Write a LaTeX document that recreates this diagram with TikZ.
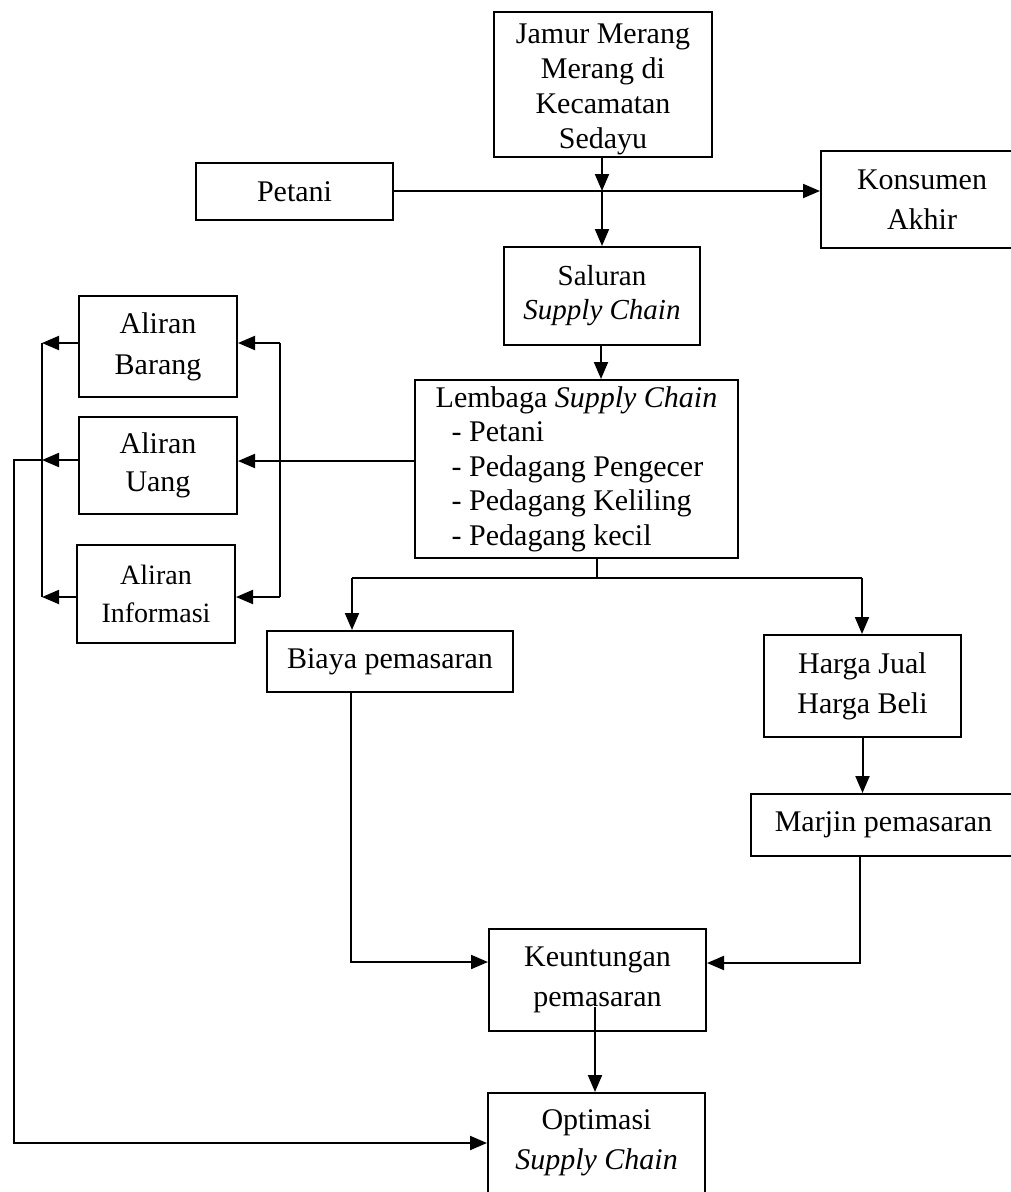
\documentclass[tikz,border=0pt]{standalone}
\usepackage{fontspec}
\setmainfont{Liberation Serif}
\usetikzlibrary{arrows.meta}
\begin{document}
\begin{tikzpicture}[x=1pt,y=-1pt,
  box/.style={draw, line width=2pt, inner sep=0pt, align=center, font=\fontsize{30}{40}\selectfont},
  arr/.style={line width=2pt, -{Triangle[length=17pt,width=14pt]}},
  ln/.style={line width=2pt}]
\useasboundingbox (0,0) rectangle (1011,1192);
% nodes
\node[box, minimum width=218pt, minimum height=145pt] (jamur) at (603,84.5) {};
\node[align=center, inner sep=0pt, font=\fontsize{30}{35}\selectfont] (jamurtext) at ([yshift=-5pt]jamur.center) {Jamur Merang\\Merang di\\Kecamatan\\Sedayu};
\node[box, minimum width=197pt, minimum height=57pt] (petani) at (294.5,191.5) {Petani};
\node[box, minimum width=202pt, minimum height=97pt] (konsumen) at (922,199.5) {Konsumen\\Akhir};
\node[box, minimum width=196pt, minimum height=98pt, font=\fontsize{29}{34}\selectfont] (saluran) at (602,296) {Saluran\\\textit{Supply Chain}};
\node[box, minimum width=323pt, minimum height=178pt, align=left, font=\fontsize{30}{34.5}\selectfont] (lembaga) at (576.5,469) {Lembaga \textit{Supply Chain}\\\hspace*{16pt}- Petani\\\hspace*{16pt}- Pedagang Pengecer\\\hspace*{16pt}- Pedagang Keliling\\\hspace*{16pt}- Pedagang kecil};
\node[box, minimum width=158pt, minimum height=101pt, font=\fontsize{30}{41}\selectfont] (barang) at (158,346.5) {Aliran\\Barang};
\node[box, minimum width=158pt, minimum height=97pt, font=\fontsize{30}{38}\selectfont] (uang) at (158,465.5) {Aliran\\Uang};
\node[box, minimum width=158pt, minimum height=98pt, font=\fontsize{28}{38}\selectfont] (info) at (156,594) {Aliran\\Informasi};
\node[box, minimum width=246pt, minimum height=61pt] (biaya) at (390,661.5) {Biaya pemasaran};
\node[box, minimum width=197pt, minimum height=102pt] (harga) at (862.5,686) {Harga Jual\\Harga Beli};
\node[box, minimum width=265pt, minimum height=62pt] (marjin) at (883.5,825) {Marjin pemasaran};
\node[box, minimum width=217pt, minimum height=102pt] (keu) at (597.5,980) {Keuntungan\\pemasaran};
\node[box, minimum width=217pt, minimum height=100pt] (opt) at (596.5,1143) {Optimasi\\\textit{Supply Chain}};
% helper coordinates
\coordinate (cross) at (602,191);
\coordinate (rbT) at (280,343);
\coordinate (rbM) at (280,461);
\coordinate (rbB) at (280,597);
\coordinate (lbT) at (42,343);
\coordinate (lbM) at (42,460);
\coordinate (lbB) at (42,597);
\coordinate (outer) at (14,460);
\coordinate (split) at (597,578);
\coordinate (bL) at (352,578);
\coordinate (bR) at (862,578);
\coordinate (bk) at (351,962);
\coordinate (mk) at (860,963);
\coordinate (ko) at (595,1007);
% connectors
\draw[arr] (petani.east |- cross) -- (cross -| konsumen.west);
\draw[arr] (jamur.south -| cross) -- (cross);
\draw[arr] (cross) -- (cross |- saluran.north);
\draw[arr] (saluran.south -| 601,0) -- (601,0 |- lembaga.north);
\draw[arr] (lembaga.west |- rbM) -- (rbM -| uang.east);
\draw[ln] (rbT) -- (rbB);
\draw[arr] (rbT) -- (rbT -| barang.east);
\draw[arr] (rbB) -- (rbB -| info.east);
\draw[ln] (lbT) -- (lbB);
\draw[arr] (barang.west |- lbT) -- (lbT);
\draw[arr] (uang.west |- lbM) -- (lbM);
\draw[arr] (info.west |- lbB) -- (lbB);
\draw[arr] (lbM) -- (outer) |- (opt.west);
\draw[ln] (lembaga.south -| split) -- (split);
\draw[ln] (bL) -- (bR);
\draw[arr] (bL) -- (bL |- biaya.north);
\draw[arr] (bR) -- (bR |- harga.north);
\draw[arr] (harga.south) -- (harga.south |- marjin.north);
\draw[arr] (mk |- marjin.south) -- (mk) -- (mk -| keu.east);
\draw[arr] (bk |- biaya.south) -- (bk) -- (bk -| keu.west);
\draw[arr] (ko) -- (ko |- opt.north);
\end{tikzpicture}
\end{document}
